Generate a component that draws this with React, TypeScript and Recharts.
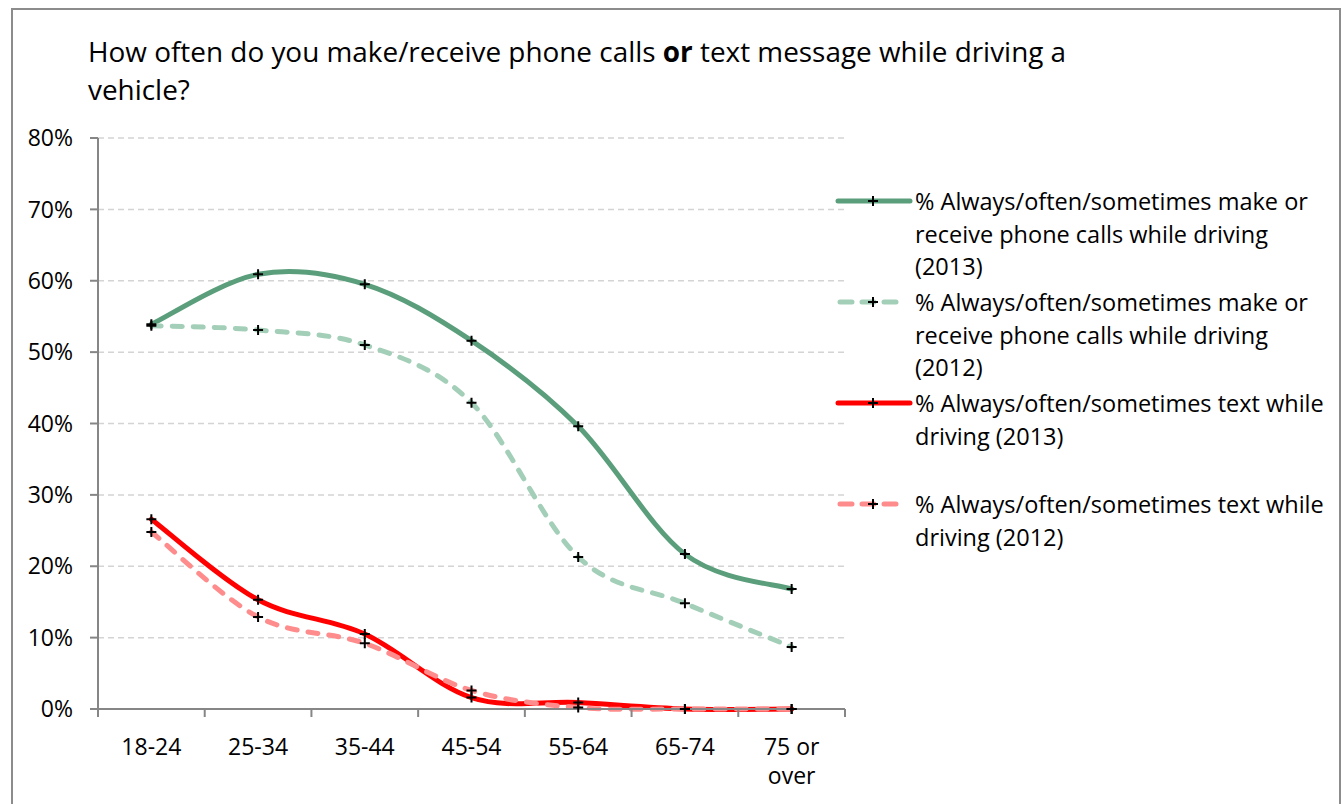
import React from "react";
import {
  LineChart,
  Line,
  XAxis,
  YAxis,
  CartesianGrid,
} from "recharts";

const ages = ["18-24", "25-34", "35-44", "45-54", "55-64", "65-74", "75 or\nover"];
const calls2013 = [53.9, 60.9, 59.5, 51.6, 39.6, 21.7, 16.8];
const calls2012 = [53.7, 53.1, 51.0, 42.9, 21.3, 14.8, 8.7];
const text2013 = [26.6, 15.3, 10.5, 1.6, 0.9, 0, 0];
const text2012 = [24.8, 12.9, 9.2, 2.6, 0.2, 0, 0];
const yTicks = [0, 10, 20, 30, 40, 50, 60, 70, 80];

const data = ages.map((age, i) => ({
  age,
  calls2013: calls2013[i],
  calls2012: calls2012[i],
  text2013: text2013[i],
  text2012: text2012[i],
}));

const FONT = "'Open Sans', sans-serif";
const AXIS = "#868686";
const PLOT_LEFT = 98;
const PLOT_RIGHT = 845;
const STEP = (PLOT_RIGHT - PLOT_LEFT) / ages.length;

const series = [
  {
    key: "calls2013",
    color: "#5a9e7b",
    dash: undefined as string | undefined,
    label: ["% Always/often/sometimes make or", "receive phone calls while driving", "(2013)"],
    top: 201,
  },
  {
    key: "calls2012",
    color: "#a3cfb8",
    dash: "10 11",
    label: ["% Always/often/sometimes make or", "receive phone calls while driving", "(2012)"],
    top: 302,
  },
  {
    key: "text2013",
    color: "#ff0000",
    dash: undefined,
    label: ["% Always/often/sometimes text while", "driving (2013)"],
    top: 403,
  },
  {
    key: "text2012",
    color: "#ff8c8c",
    dash: "10 11",
    label: ["% Always/often/sometimes text while", "driving (2012)"],
    top: 504,
  },
];

// Excel-like smoothed line (Catmull-Rom as cubic bezier)
function excelCurve(context: any) {
  let pts: [number, number][] = [];
  return {
    areaStart() {},
    areaEnd() {},
    lineStart() {
      pts = [];
    },
    point(x: number, y: number) {
      pts.push([+x, +y]);
    },
    lineEnd() {
      const n = pts.length;
      if (!n) return;
      context.moveTo(pts[0][0], pts[0][1]);
      for (let i = 0; i < n - 1; i++) {
        const p0 = pts[i - 1] || pts[i];
        const p1 = pts[i];
        const p2 = pts[i + 1];
        const p3 = pts[i + 2] || p2;
        context.bezierCurveTo(
          p1[0] + (p2[0] - p0[0]) / 6,
          p1[1] + (p2[1] - p0[1]) / 6,
          p2[0] - (p3[0] - p1[0]) / 6,
          p2[1] - (p3[1] - p1[1]) / 6,
          p2[0],
          p2[1]
        );
      }
    },
  };
}

const PlusDot = (props: any) => {
  const { cx, cy, index } = props;
  if (cx == null || cy == null) return <g key={index} />;
  return (
    <path
      key={index}
      d={`M${cx - 5},${cy}H${cx + 5}M${cx},${cy - 5}V${cy + 5}`}
      stroke="#000"
      strokeWidth={2}
      fill="none"
    />
  );
};

function AgeTick(props: any) {
  const { x, y, payload, index } = props;
  const lines = String(payload.value).split("\n");
  return (
    <g>
      <line x1={x - STEP / 2} x2={x - STEP / 2} y1={y} y2={y + 8} stroke={AXIS} strokeWidth={2} />
      {index === ages.length - 1 && (
        <line x1={x + STEP / 2} x2={x + STEP / 2} y1={y} y2={y + 8} stroke={AXIS} strokeWidth={2} />
      )}
      <text x={x} y={y + 46} textAnchor="middle" fontSize={23} fontFamily={FONT} fill="#000">
        {lines.map((l, i) => (
          <tspan key={i} x={x} dy={i ? 29 : 0}>
            {l}
          </tspan>
        ))}
      </text>
    </g>
  );
}

function LegendSample({ color, dash }: { color: string; dash?: string }) {
  return (
    <svg width={80} height={12} style={{ position: "absolute", left: 834, top: -6 }}>
      <line
        x1={dash ? 6 : 4}
        x2={dash ? 70 : 76}
        y1={6}
        y2={6}
        stroke={color}
        strokeWidth={5}
        strokeDasharray={dash ? "12 10" : undefined}
        strokeLinecap="round"
      />
      <path d="M34,6H44M39,1V11" stroke="#000" strokeWidth={2} />
    </svg>
  );
}

export default function App() {
  return (
    <div style={{ position: "absolute", left: 0, top: 0, width: 1342, height: 804, overflow: "hidden", background: "#fff" }}>
      <div
        style={{
          position: "absolute",
          left: 11,
          top: 8,
          width: 1326,
          height: 820,
          border: "2px solid #8c8c8c",
        }}
      />
      <div
        style={{
          position: "absolute",
          left: 88,
          top: 32,
          fontFamily: FONT,
          fontSize: 27.9,
          lineHeight: "38px",
          color: "#000",
          whiteSpace: "nowrap",
        }}
      >
        How often do you make/receive phone calls <b>or</b> text message while driving a
        <br />
        vehicle?
      </div>
      <div style={{ position: "absolute", left: 0, top: 0 }}>
        <LineChart
          width={1342}
          height={804}
          data={data}
          margin={{ top: 138, right: 1342 - PLOT_RIGHT, bottom: 65, left: 38 }}
        >
          <CartesianGrid vertical={false} stroke="#d4d4d4" strokeWidth={1.5} strokeDasharray="6 4" />
          <XAxis
            dataKey="age"
            interval={0}
            padding={{ left: STEP / 2, right: STEP / 2 }}
            tickLine={false}
            tickSize={0}
            tickMargin={0}
            height={30}
            axisLine={{ stroke: AXIS, strokeWidth: 2 }}
            tick={<AgeTick />}
          />
          <YAxis
            width={60}
            domain={[0, 80]}
            ticks={yTicks}
            interval={0}
            tickFormatter={(v: number) => `${v}%`}
            tickSize={8}
            tickMargin={17}
            axisLine={{ stroke: AXIS, strokeWidth: 2 }}
            tickLine={{ stroke: AXIS, strokeWidth: 2 }}
            tick={{ fontSize: 23, fontFamily: FONT, fill: "#000" }}
          />
          {series.map((s) => (
            <Line
              key={s.key}
              dataKey={s.key}
              type={excelCurve as any}
              stroke={s.color}
              strokeWidth={5}
              strokeDasharray={s.dash}
              strokeLinecap="round"
              dot={PlusDot}
              activeDot={false}
              isAnimationActive={false}
            />
          ))}
        </LineChart>
      </div>
      {series.map((s) => (
        <div key={s.key} style={{ position: "absolute", left: 0, top: s.top, width: 1342 }}>
          <LegendSample color={s.color} dash={s.dash} />
          <div
            style={{
              position: "absolute",
              left: 915,
              top: -16,
              fontFamily: FONT,
              fontSize: 23.5,
              lineHeight: "32.5px",
              color: "#000",
              whiteSpace: "nowrap",
            }}
          >
            {s.label.map((l, i) => (
              <div key={i}>{l}</div>
            ))}
          </div>
        </div>
      ))}
    </div>
  );
}
